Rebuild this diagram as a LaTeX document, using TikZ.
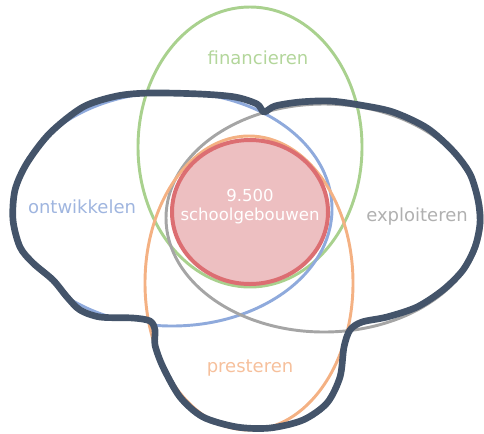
\documentclass[tikz,border=0pt]{standalone}
\usepackage{fontspec}
\setmainfont{DejaVu Sans}
\definecolor{cgreen}{HTML}{A9D18E}
\definecolor{cblue}{HTML}{8FAADC}
\definecolor{cgray}{HTML}{A5A5A5}
\definecolor{corange}{HTML}{F4B183}
\definecolor{credline}{HTML}{DC6E72}
\definecolor{credfill}{HTML}{EDBFC1}
\definecolor{cdark}{HTML}{44546A}
\definecolor{tgreen}{HTML}{B3D69B}
\definecolor{tblue}{HTML}{9FB5DF}
\definecolor{tgray}{HTML}{B0B0B0}
\definecolor{torange}{HTML}{F6C09C}
\tikzset{
  ring/.style={line width=2.2pt},
  lbl/.style={font=\fontsize{13.5}{15}\selectfont, inner sep=0pt},
  inner/.style={font=\fontsize{12.4}{15}\selectfont, text=white, inner sep=0pt, align=center}
}
\begin{document}
\begin{tikzpicture}[x=0.75pt,y=-0.75pt]
\useasboundingbox (0,0) rectangle (484,433);
\path[save path=\outl] plot[smooth cycle, tension=0.5] coordinates {
(264,112) (275,106) (300,102) (330,101) (360,105) (393,112) (427,128) (453,151)
(470,174) (478,200) (480,223) (475,247) (463,270) (443,290) (417,307) (387,317)
(362,322) (350,330) (344,347) (340,377) (327,403) (303,420) (270,428) (237,427)
(203,417) (180,397) (163,367) (155,345) (155,330) (150,321) (133,318) (100,317)
(80,310) (67,297) (53,280) (33,263) (20,247) (13,220) (15,190) (27,163)
(50,133) (83,107) (117,96) (150,93) (200,94) (235,97) (257,104)};
% ellipses
\draw[ring, cgreen] (250,147) ellipse [x radius=112, y radius=140];
\begin{scope}
\clip[use path=\outl];
\draw[ring, cblue] (172,209) ellipse [x radius=160, y radius=117];
\end{scope}
\draw[ring, cgray] (324,218) ellipse [x radius=158, y radius=114];
\draw[ring, corange] (249,283) ellipse [x radius=104, y radius=147];
% centre
\draw[line width=3pt, credline, fill=credfill] (250,212) ellipse [x radius=78, y radius=72];
% outline
\draw[use path=\outl, cdark, line width=5pt, line join=round];
% labels
\node[lbl, text=tgreen] (fin) at (258,58) {financieren};
\node[lbl, text=tblue] (ont) at (82,207) {ontwikkelen};
\node[lbl, text=tgray] (exp) at (417,217) {exploiteren};
\node[lbl, text=torange] (pre) at (250,368) {presteren};
\node[inner] (num) at (250,195) {9.500};
\node[inner] (sch) at (250,216) {schoolgebouwen};
\end{tikzpicture}
\end{document}
